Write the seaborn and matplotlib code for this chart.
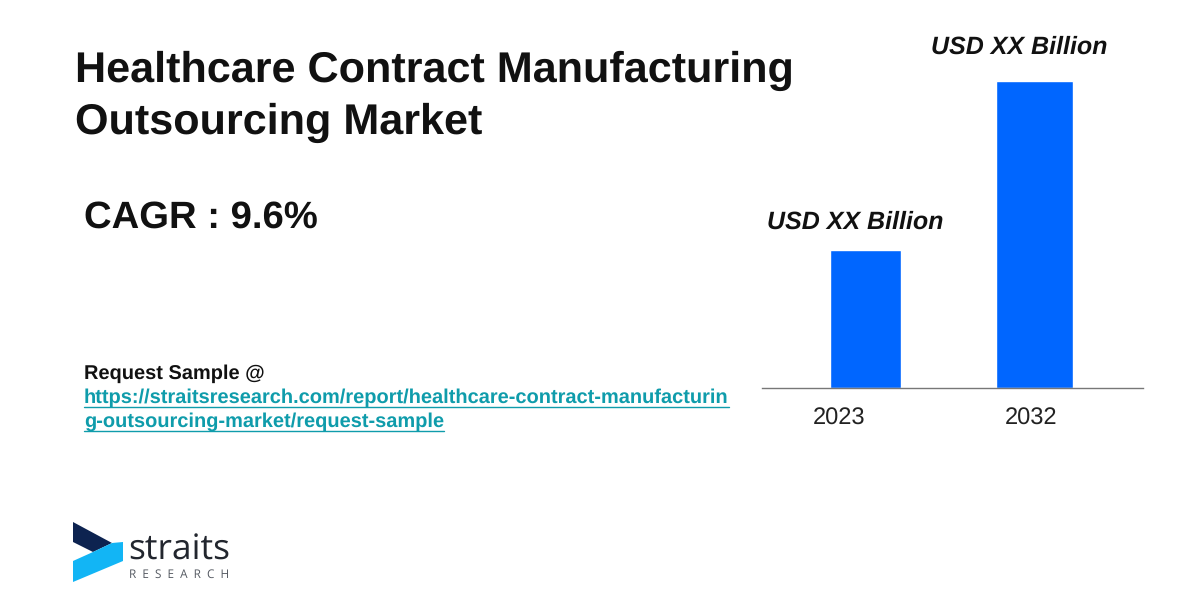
import matplotlib.pyplot as plt
from matplotlib.patches import Polygon
from matplotlib.lines import Line2D
import seaborn as sns

# bar heights are relative, the source only says "USD XX Billion"
years = ['2023', '2032']
values = [138, 306]
bar_labels = ['USD XX Billion', 'USD XX Billion']

title_lines = ['Healthcare Contract Manufacturing', 'Outsourcing Market']
cagr_text = 'CAGR : 9.6%'
sample_text = 'Request Sample @'
link_lines = ['https://straitsresearch.com/report/healthcare-contract-manufacturin',
              'g-outsourcing-market/request-sample']

W, H = 1200, 600

sns.set_theme(style='white')
plt.rcParams['font.family'] = ['Liberation Sans', 'DejaVu Sans']
plt.rcParams['text.hinting'] = 'no_hinting'

fig = plt.figure(figsize=(W / 100, H / 100), dpi=100, facecolor='white')


def fx(px):
    return px / W


def fy(py):
    return 1 - py / H


def put(px, py, s, **kw):
    return fig.text(fx(px), fy(py), s, va='center', **kw)


# bar panel, placed in pixels
ax = fig.add_axes([fx(762), fy(388), fx(1143 - 762), 307 / H])
sns.barplot(x=years, y=values, color='#0066ff', saturation=1, width=0.45, ax=ax)
ax.patches[0].set_width(0.42)
ax.patches[0].set_x(-0.21)
ax.set_xlim(-0.612, 1.642)
ax.set_ylim(0, 306)
sns.despine(ax=ax, left=True, top=True, right=True)
ax.spines['bottom'].set_color('#777777')
ax.spines['bottom'].set_linewidth(1.0)
ax.set_yticks([])
ax.set_xlabel('')
ax.set_ylabel('')
# the year labels sit left of the bar centres in the original
ax.set_xticks([-0.155, 0.981], years)
ax.tick_params(axis='x', length=0, pad=14, labelsize=17, labelcolor='#222222')

put(855, 222.5, bar_labels[0], ha='center', fontsize=18, fontweight='bold', fontstyle='italic', color='#111111')
put(1019, 47.5, bar_labels[1], ha='center', fontsize=18, fontweight='bold', fontstyle='italic', color='#111111')

put(75, 71, title_lines[0], fontsize=31.1, fontweight='bold', color='#111111')
put(75, 123, title_lines[1], fontsize=31.1, fontweight='bold', color='#111111')
put(84, 218, cagr_text, fontsize=27.5, fontweight='bold', color='#111111')
put(84, 374, sample_text, fontsize=14.4, fontweight='bold', color='#111111')

link_color = '#0f9cab'
for py, line in zip([398, 422], link_lines):
    t = put(84, py, line, fontsize=14.4, fontweight='bold', color=link_color)
    fig.canvas.draw()
    box = t.get_window_extent()
    fig.add_artist(Line2D([fx(84), box.x1 / W], [fy(py + 9)] * 2, color=link_color, lw=1.0))

# logo
fig.add_artist(Polygon([(fx(73), fy(522)), (fx(112), fy(543)), (fx(93), fy(552)), (fx(73), fy(542))],
                       closed=True, color='#0d2350', lw=0, transform=fig.transFigure))
fig.add_artist(Polygon([(fx(73), fy(561)), (fx(93), fy(552)), (fx(112), fy(543)), (fx(123), fy(542)),
                        (fx(123), fy(561)), (fx(73), fy(582))],
                       closed=True, color='#12b5f5', lw=0, transform=fig.transFigure))
put(128, 551, 'straits', fontsize=25.5, family='Open Sans', fontweight='medium', color='#22262e')
put(129, 575, 'R  E  S  E  A  R  C  H', fontsize=8.5, family='Open Sans', fontweight='medium', color='#555a62')

fig.savefig('out.png', dpi=100)
